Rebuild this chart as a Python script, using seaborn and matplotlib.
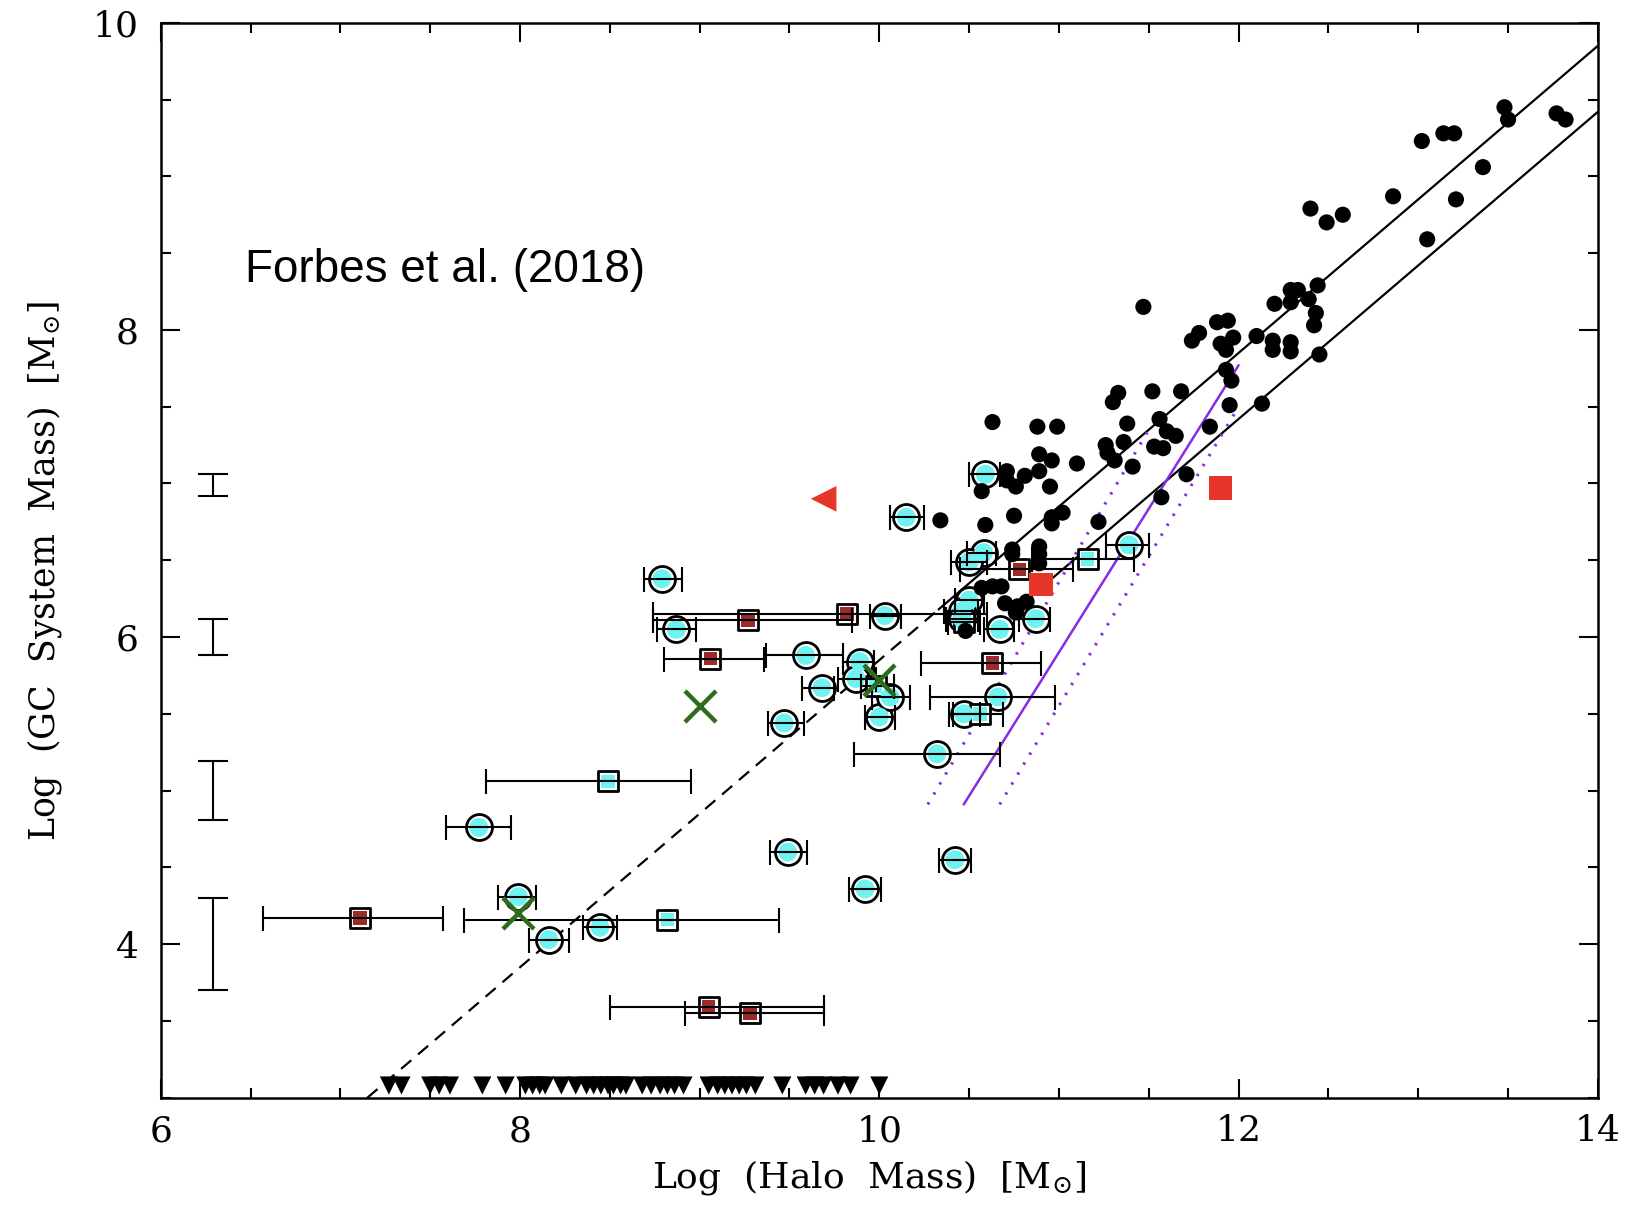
import matplotlib
matplotlib.use('Agg')
import matplotlib.pyplot as plt
import seaborn as sns
import numpy as np
import pandas as pd
from matplotlib.ticker import MultipleLocator

# main sample of GC systems (black dots)
dot_x = [11.47, 11.74, 11.78, 11.88, 11.94, 11.97, 11.90, 11.93, 12.10, 12.19, 12.19, 12.29, 12.29,
         12.20, 12.29, 12.33, 12.29, 12.39, 12.44, 12.43, 12.42, 12.45, 11.93, 11.96, 11.95, 12.13,
         11.84, 11.68, 11.52, 11.33, 11.30, 11.56, 11.60, 11.65, 11.53, 11.58, 11.38, 11.36, 11.26,
         11.27, 11.31, 11.41, 11.10, 10.63, 10.88, 10.99, 10.89, 10.96, 10.89, 10.71, 10.71, 10.76,
         10.81, 10.57, 10.95, 10.34, 10.59, 10.75, 10.96, 11.02, 10.96, 11.22, 11.71, 11.57, 10.74,
         10.74, 10.89, 10.89, 10.89, 10.57, 10.63, 10.68, 10.70, 10.77, 10.82, 10.48, 10.76,
         13.48, 13.50, 13.77, 13.82, 13.02, 13.14, 13.20, 13.36, 12.86, 13.21, 13.05, 12.40, 12.49, 12.58]
dot_y = [8.15, 7.93, 7.98, 8.05, 8.06, 7.95, 7.91, 7.87, 7.96, 7.93, 7.87, 7.92, 7.86,
         8.17, 8.26, 8.26, 8.18, 8.20, 8.29, 8.11, 8.03, 7.84, 7.74, 7.67, 7.51, 7.52,
         7.37, 7.60, 7.60, 7.59, 7.53, 7.42, 7.34, 7.31, 7.24, 7.23, 7.39, 7.27, 7.25,
         7.20, 7.15, 7.11, 7.13, 7.40, 7.37, 7.37, 7.19, 7.15, 7.08, 7.08, 7.02, 6.98,
         7.05, 6.95, 6.98, 6.76, 6.73, 6.79, 6.78, 6.81, 6.74, 6.75, 7.06, 6.91, 6.57,
         6.54, 6.59, 6.54, 6.48, 6.32, 6.33, 6.33, 6.22, 6.20, 6.23, 6.04, 6.16,
         9.45, 9.37, 9.41, 9.37, 9.23, 9.28, 9.28, 9.06, 8.87, 8.85, 8.59, 8.79, 8.70, 8.75]

# cyan circles with halo mass ranges
circ_x = [8.79, 8.87, 7.77, 7.99, 8.16, 8.445, 9.47, 9.59, 9.68, 9.49, 9.92, 10.42, 10.15, 10.59, 10.03,
          9.89, 9.87, 10.00, 10.06, 10.32, 10.66, 10.47, 10.67, 10.87, 11.39, 10.58, 10.50, 10.50, 10.46, 10.46]
circ_y = [6.38, 6.05, 4.76, 4.31, 4.03, 4.11, 5.44, 5.88, 5.67, 4.60, 4.36, 4.55, 6.78, 7.06, 6.14,
          5.84, 5.73, 5.48, 5.61, 5.24, 5.61, 5.50, 6.05, 6.12, 6.60, 6.55, 6.49, 6.24, 6.17, 6.12]
circ_lo = [8.69, 8.76, 7.59, 7.88, 8.05, 8.35, 9.38, 9.37, 9.57, 9.39, 9.83, 10.33, 10.06, 10.50, 9.95,
           9.80, 9.77, 9.92, 9.96, 9.86, 10.28, 10.39, 10.58, 10.78, 11.26, 10.49, 10.40, 10.42, 10.36, 10.37]
circ_hi = [8.90, 8.98, 7.95, 8.09, 8.27, 8.54, 9.58, 9.80, 9.75, 9.60, 10.01, 10.51, 10.25, 10.67, 10.12,
           9.97, 9.98, 10.09, 10.17, 10.67, 10.98, 10.56, 10.75, 10.95, 11.50, 10.65, 10.60, 10.58, 10.55, 10.55]

# cyan squares
csq_x = [8.49, 8.82, 11.16, 10.56, 10.47, 9.98]
csq_y = [5.06, 4.16, 6.51, 5.50, 6.10, 5.68]
csq_lo = [7.81, 7.69, 10.85, 10.41, 10.38, 9.90]
csq_hi = [8.95, 9.44, 11.42, 10.69, 10.56, 10.08]

# dark red squares
bsq_x = [7.11, 9.27, 9.82, 9.06, 10.63, 10.78, 9.05, 9.28]
bsq_y = [4.17, 6.11, 6.15, 5.86, 5.83, 6.44, 3.59, 3.55]
bsq_lo = [6.57, 8.74, 8.74, 8.80, 10.23, 10.45, 8.50, 8.92]
bsq_hi = [7.57, 9.85, 10.60, 9.36, 10.90, 11.08, 9.69, 9.69]

# other objects
red_tri_x, red_tri_y = [9.69], [6.90]
red_sq_x, red_sq_y = [10.90, 11.90], [6.34, 6.97]
green_x, green_y = [9.00, 7.99, 10.00], [5.55, 4.20, 5.72]

# upper limits along the bottom
lim_x = [7.27, 7.34, 7.50, 7.55, 7.61, 7.79, 7.92, 8.03, 8.07, 8.11, 8.14, 8.23, 8.31, 8.37, 8.41,
         8.45, 8.49, 8.52, 8.56, 8.59, 8.68, 8.73, 8.78, 8.82, 8.86, 8.91, 9.05, 9.10, 9.14, 9.18,
         9.22, 9.26, 9.31, 9.46, 9.59, 9.64, 9.69, 9.77, 9.84, 10.00]
lim_y = [3.08] * len(lim_x)

# typical error bars on the left
typ_x = [6.29, 6.29, 6.29, 6.29]
typ_y = [6.99, 6.00, 5.00, 4.00]
typ_err = [0.07, 0.12, 0.19, 0.30]

# relations (end points)
solid_hi_x, solid_hi_y = [10.33, 14.0], [6.18, 9.85]
dash_x, dash_y = [7.15, 10.33], [3.00, 6.18]
solid_lo_x, solid_lo_y = [10.82, 14.0], [6.24, 9.42]
purple_x, purple_y = [10.47, 12.00], [4.91, 7.77]
pdot1_x, pdot1_y = [10.27, 11.50], [4.91, 7.35]
pdot2_x, pdot2_y = [10.67, 11.99], [4.91, 7.48]

cyan = '#6ff2f2'
brown = '#9b2a2a'
red = '#e8352a'
green = '#2f6b1c'
purple = '#8a2be2'

sns.set_style('ticks')
plt.rcParams['font.family'] = ['DejaVu Serif']
plt.rcParams['mathtext.fontset'] = 'dejavuserif'
plt.rcParams['text.color'] = 'black'
plt.rcParams['axes.labelcolor'] = 'black'
plt.rcParams['xtick.color'] = 'black'
plt.rcParams['ytick.color'] = 'black'

fig = plt.figure(figsize=(16.27, 12.11), dpi=100)
ax = fig.add_axes([0.0988, 0.0935, 0.8833, 0.8877])

# lines
ax.plot(solid_hi_x, solid_hi_y, color='black', lw=1.6, zorder=2)
ax.plot(dash_x, dash_y, color='black', lw=1.6, ls=(0, (6, 4)), zorder=2)
ax.plot(solid_lo_x, solid_lo_y, color='black', lw=1.6, zorder=2)
ax.plot(purple_x, purple_y, color=purple, lw=1.8, zorder=2)
ax.plot(pdot1_x, pdot1_y, color=purple, lw=2.2, ls=(0, (0.8, 3.0)), zorder=2)
ax.plot(pdot2_x, pdot2_y, color=purple, lw=2.2, ls=(0, (0.8, 3.0)), zorder=2)

# black dots
sns.scatterplot(x=dot_x, y=dot_y, ax=ax, color='black', s=135, edgecolor='none', zorder=5)

# error bars
ebkw = dict(fmt='none', ecolor='black', elinewidth=1.5, capsize=9, capthick=1.5, zorder=6)
for xs, ys, lo, hi in [(circ_x, circ_y, circ_lo, circ_hi), (csq_x, csq_y, csq_lo, csq_hi),
                       (bsq_x, bsq_y, bsq_lo, bsq_hi)]:
    xs_a = np.array(xs)
    ax.errorbar(xs_a, ys, xerr=[xs_a - np.array(lo), np.array(hi) - xs_a], **ebkw)

# cyan circles
sns.scatterplot(x=circ_x, y=circ_y, ax=ax, marker='o', s=350, color='white',
                edgecolor='black', linewidth=2, zorder=4)
sns.scatterplot(x=circ_x, y=circ_y, ax=ax, marker='o', s=185, color=cyan,
                edgecolor='none', zorder=4.5)

# squares
sns.scatterplot(x=csq_x, y=csq_y, ax=ax, marker='s', s=215, color='white',
                edgecolor='black', linewidth=2, zorder=4)
sns.scatterplot(x=csq_x, y=csq_y, ax=ax, marker='s', s=95, color=cyan,
                edgecolor='none', zorder=4.5)
sns.scatterplot(x=bsq_x, y=bsq_y, ax=ax, marker='s', s=215, color='white',
                edgecolor='black', linewidth=2, zorder=4)
sns.scatterplot(x=bsq_x, y=bsq_y, ax=ax, marker='s', s=95, color=brown,
                edgecolor='none', zorder=4.5)

# red and green objects
sns.scatterplot(x=red_tri_x, y=red_tri_y, ax=ax, marker='<', s=340, color=red,
                edgecolor='none', zorder=7)
sns.scatterplot(x=red_sq_x, y=red_sq_y, ax=ax, marker='s', s=280, color=red,
                edgecolor='none', zorder=7)
sns.scatterplot(x=green_x, y=green_y, ax=ax, marker='x', s=500, color=green,
                linewidth=3.2, zorder=7)

# upper limits
sns.scatterplot(x=lim_x, y=lim_y, ax=ax, marker='v', s=170, color='black',
                edgecolor='none', zorder=5)

# typical uncertainties
ax.errorbar(typ_x, typ_y, yerr=typ_err, fmt='none', ecolor='black', elinewidth=1.5,
            capsize=11, capthick=1.5, zorder=6)

ax.text(6.47, 8.39, 'Forbes et al. (2018)', fontsize=33, va='center', ha='left',
        color='black', family=['Liberation Sans', 'DejaVu Sans'])

ax.set_xlim(6, 14)
ax.set_ylim(3, 10)
ax.set_xticks([6, 8, 10, 12, 14])
ax.set_yticks([4, 6, 8, 10])
ax.xaxis.set_minor_locator(MultipleLocator(0.5))
ax.yaxis.set_minor_locator(MultipleLocator(0.5))
ax.tick_params(which='both', direction='in', top=True, right=True, width=1.5, colors='black')
ax.tick_params(which='major', length=14, labelsize=26)
ax.tick_params(which='minor', length=7)
ax.tick_params(axis='x', pad=12)
ax.tick_params(axis='y', pad=16)
for sp in ax.spines.values():
    sp.set_linewidth(1.8)
    sp.set_color('black')

ax.set_xlabel('Log  (Halo  Mass)  [M$_{\\odot}$]', fontsize=26, color='black')
ax.set_ylabel('Log  (GC  System  Mass)  [M$_{\\odot}$]', fontsize=25, color='black')
ax.xaxis.set_label_coords(0.493, -0.056)
ax.yaxis.set_label_coords(-0.067, 0.49)

fig.savefig('out.png', dpi=100)
